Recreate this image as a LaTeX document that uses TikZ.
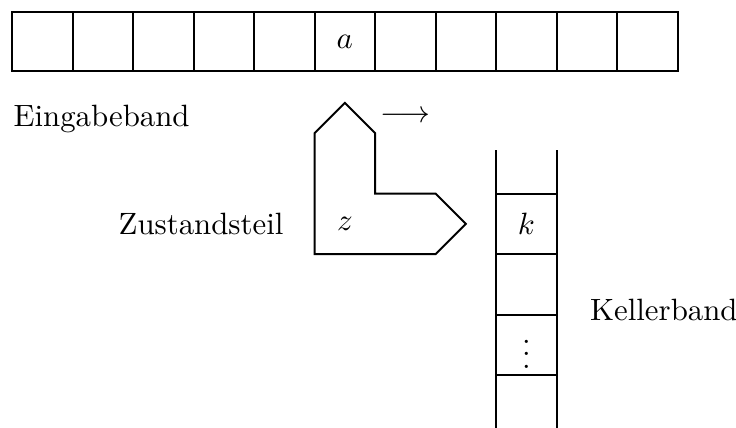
\documentclass[tikz,border=0pt]{standalone}
\usetikzlibrary{positioning}

\begin{document}
\begin{tikzpicture}[
    x=0.69cm, y=0.69cm, line width=0.6pt,
    cell/.style={draw, minimum width=0.69cm, minimum height=0.69cm, inner sep=0pt, outer sep=0pt},
    lab/.style={inner sep=0pt}]
    \useasboundingbox (0,0) rectangle (12.165,-7.074);
    % Eingabeband
    \node[cell, minimum height=0.676cm, anchor=north west] (e0) at (0.2,-0.2) {};
    \foreach \i [count=\j from 0] in {1,...,10}
      \node[cell, minimum height=0.676cm, right=0pt of e\j] (e\i) {};
    \node[lab] (a) at (e5) {$a$};
    \node[lab, anchor=base west] (eband) at (0.21,-2.083) {Eingabeband};
    % Zustandsteil
    \draw (5.2,-2.2) -- (5.7,-1.7) -- (6.2,-2.2) -- (6.2,-3.2) -- (7.2,-3.2)
      -- (7.7,-3.7) -- (7.2,-4.2) -- (5.2,-4.2) -- cycle;
    \node[lab] (z) at (5.7,-3.7) {$z$};
    \node[lab, anchor=base east] (zteil) at (4.70,-3.884) {Zustandsteil};
    \node[lab, anchor=base] (dir) at (6.7,-2.03) {$\longrightarrow$};
    % Kellerband
    \node[cell, anchor=north west] (s1) at (8.2,-3.2) {$k$};
    \node[cell, below=0pt of s1] (s2) {};
    \node[cell, below=0pt of s2] (s3) {};
    \node[lab] (dots) at (s3) {$\vdots$};
    \draw (s1.north west) -- +(0,0.72);
    \draw (s1.north east) -- +(0,0.72);
    \draw (s3.south west) -- +(0,-0.9);
    \draw (s3.south east) -- +(0,-0.9);
    \node[lab, anchor=base west] (kband) at (9.74,-5.29) {Kellerband};
  \end{tikzpicture}
\end{document}
